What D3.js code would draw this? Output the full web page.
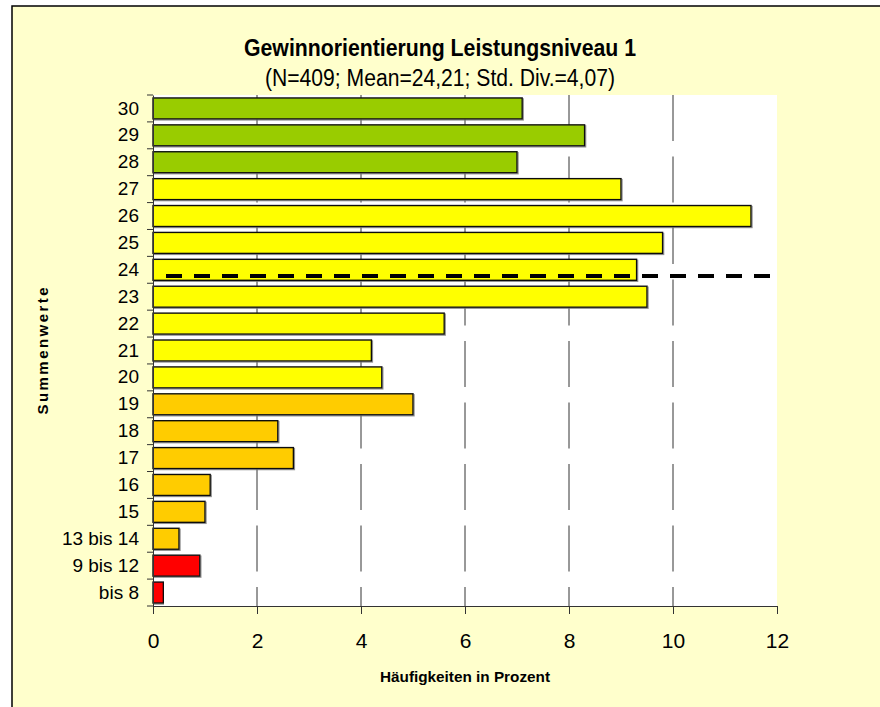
<!DOCTYPE html>
<html>
<head>
<meta charset="utf-8">
<script src="https://cdn.jsdelivr.net/npm/d3@7"></script>
<style>
  body { margin: 0; background: #fff; }
  text { font-family: "Liberation Sans", Arial, sans-serif; fill: #000; }
</style>
</head>
<body>
<div id="chart"></div>
<script>
// Summenwerte (top to bottom) and share in percent
const categories = ["30", "29", "28", "27", "26", "25", "24", "23", "22", "21", "20",
    "19", "18", "17", "16", "15", "13 bis 14", "9 bis 12", "bis 8"];
const values = [7.1, 8.3, 7.0, 9.0, 11.5, 9.8, 9.3, 9.5, 5.6, 4.2, 4.4,
    5.0, 2.4, 2.7, 1.1, 1.0, 0.5, 0.9, 0.2];
const groups = ["high", "high", "high", "mid", "mid", "mid", "mid", "mid", "mid", "mid", "mid",
    "low", "low", "low", "low", "low", "low", "poor", "poor"];
const xTicks = [0, 2, 4, 6, 8, 10, 12];
const meanValue = 24.21;
const meanLineX = [0.25, 11.9];

const groupColor = { high: "#99CC00", mid: "#FFFF00", low: "#FFCC00", poor: "#FF0000" };

const width = 880, height = 707;
const plot = { left: 153, right: 777, top: 95, bottom: 606 };

const svg = d3.select("#chart").append("svg")
    .attr("width", width)
    .attr("height", height);

const defs = svg.append("defs");
defs.append("filter").attr("id", "shadow")
    .attr("x", "-5%").attr("y", "-20%").attr("width", "110%").attr("height", "150%")
    .append("feDropShadow")
    .attr("dx", 1).attr("dy", 1).attr("stdDeviation", 0.6)
    .attr("flood-color", "#777").attr("flood-opacity", 0.8);

// chart background + frame
svg.append("rect")
    .attr("x", 12).attr("y", 6)
    .attr("width", width).attr("height", height)
    .attr("fill", "#FFFFCC")
    .attr("stroke", "#000")
    .attr("stroke-width", 1.5);

const x = d3.scaleLinear().domain([0, 12]).range([plot.left, plot.right]);
const y = d3.scaleBand().domain(categories)
    .range([plot.top, plot.bottom])
    .paddingInner(0.22).paddingOuter(0.11);
// hidden secondary axis used by the mean line
const y2 = d3.scaleLinear().domain([10, 32]).range([plot.bottom, plot.top]);

svg.append("rect")
    .attr("x", plot.left).attr("y", plot.top)
    .attr("width", plot.right - plot.left)
    .attr("height", plot.bottom - plot.top)
    .attr("fill", "#fff");

// gridlines
svg.append("g").selectAll("line")
    .data(xTicks.filter(d => d > 0 && d < 12))
    .join("line")
    .attr("x1", d => x(d)).attr("x2", d => x(d))
    .attr("y1", plot.top).attr("y2", plot.bottom)
    .attr("stroke", "#333")
    .attr("stroke-width", 1)
    .attr("stroke-dasharray", "46,15.5");

// bars
svg.append("g").selectAll("rect")
    .data(categories)
    .join("rect")
    .attr("x", x(0))
    .attr("y", d => y(d))
    .attr("width", (d, i) => x(values[i]) - x(0))
    .attr("height", y.bandwidth())
    .attr("fill", (d, i) => groupColor[groups[i]])
    .attr("stroke", "#111")
    .attr("stroke-width", 1.4)
    .attr("filter", "url(#shadow)");

// mean line
svg.append("path")
    .datum(meanLineX)
    .attr("d", d3.line().x(d => x(d)).y(() => y2(meanValue)))
    .attr("fill", "none")
    .attr("stroke", "#000")
    .attr("stroke-width", 4)
    .attr("stroke-dasharray", "16,12");

// y axis
const yAxis = svg.append("g")
    .attr("transform", `translate(${plot.left},0)`)
    .call(d3.axisLeft(y).tickSize(0).tickPadding(14));
yAxis.select(".domain").attr("stroke", "#333");
yAxis.selectAll("text").attr("font-size", 19).attr("font-family", "Liberation Sans, Arial, sans-serif");
yAxis.selectAll(".bound")
    .data(d3.range(categories.length + 1))
    .join("line")
    .attr("class", "bound")
    .attr("x1", -6).attr("x2", 0)
    .attr("y1", i => plot.top + i * y.step())
    .attr("y2", i => plot.top + i * y.step())
    .attr("stroke", "#333");

// x axis
const xAxis = svg.append("g")
    .attr("transform", `translate(0,${plot.bottom})`)
    .call(d3.axisBottom(x).tickValues(xTicks).tickSize(8).tickPadding(19));
xAxis.select(".domain").attr("stroke", "#333");
xAxis.selectAll("line").attr("stroke", "#333");
xAxis.selectAll("text").attr("font-size", 21).attr("font-family", "Liberation Sans, Arial, sans-serif");

// titles
svg.append("text")
    .attr("x", 440).attr("y", 56)
    .attr("text-anchor", "middle")
    .attr("font-size", 24).attr("font-weight", "bold")
    .attr("textLength", 392).attr("lengthAdjust", "spacingAndGlyphs")
    .text("Gewinnorientierung Leistungsniveau 1");

svg.append("text")
    .attr("x", 440).attr("y", 86)
    .attr("text-anchor", "middle")
    .attr("font-size", 23)
    .attr("textLength", 350).attr("lengthAdjust", "spacingAndGlyphs")
    .text("(N=409; Mean=24,21; Std. Div.=4,07)");

svg.append("text")
    .attr("x", 465).attr("y", 682)
    .attr("text-anchor", "middle")
    .attr("font-size", 14).attr("font-weight", "bold")
    .attr("textLength", 170).attr("lengthAdjust", "spacingAndGlyphs")
    .text("Häufigkeiten in Prozent");

svg.append("text")
    .attr("transform", "translate(48,351) rotate(-90)")
    .attr("text-anchor", "middle")
    .attr("font-size", 15).attr("font-weight", "bold")
    .attr("textLength", 127).attr("lengthAdjust", "spacing")
    .text("Summenwerte");
</script>
</body>
</html>
